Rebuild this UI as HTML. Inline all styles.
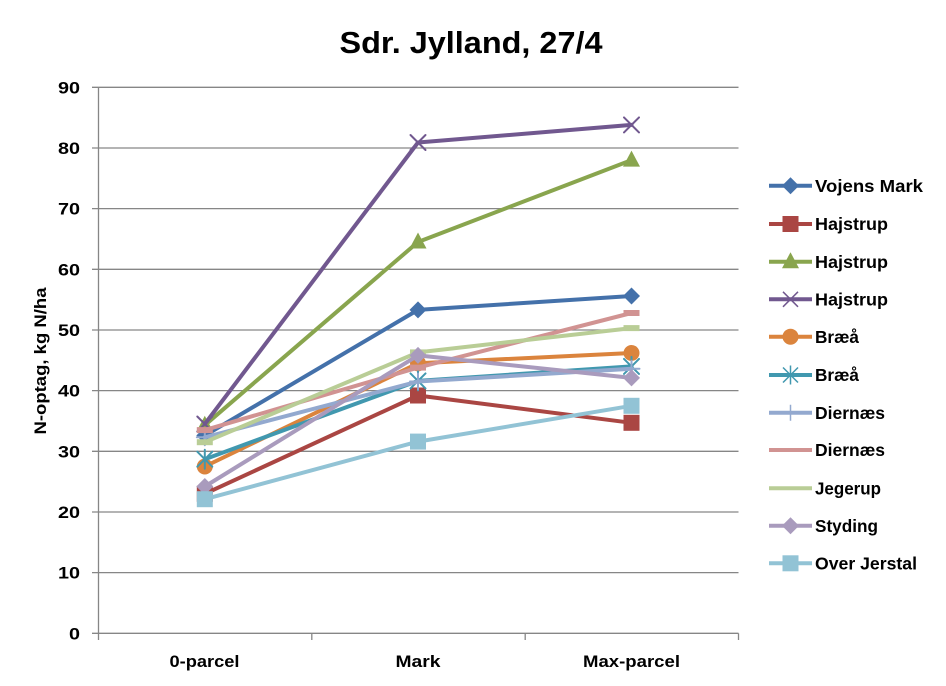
<!DOCTYPE html>
<html>
<head>
<meta charset="utf-8">
<style>
html,body{margin:0;padding:0;background:#fff;}
svg{display:block;}
text{font-family:"Liberation Sans",Arial,sans-serif;font-weight:bold;fill:#000;}
</style>
</head>
<body>
<svg width="946" height="686" viewBox="0 0 946 686" xmlns="http://www.w3.org/2000/svg">
<rect width="946" height="686" fill="#fff"/>
<text x="471" y="53" font-size="31" text-anchor="middle" textLength="263" lengthAdjust="spacingAndGlyphs">Sdr. Jylland, 27/4</text>

<!-- gridlines -->
<g stroke="#868686" stroke-width="1.3" fill="none">
<line x1="92" y1="87.3" x2="738.5" y2="87.3"/>
<line x1="92" y1="148" x2="738.5" y2="148"/>
<line x1="92" y1="208.6" x2="738.5" y2="208.6"/>
<line x1="92" y1="269.3" x2="738.5" y2="269.3"/>
<line x1="92" y1="330" x2="738.5" y2="330"/>
<line x1="92" y1="390.6" x2="738.5" y2="390.6"/>
<line x1="92" y1="451.3" x2="738.5" y2="451.3"/>
<line x1="92" y1="512" x2="738.5" y2="512"/>
<line x1="92" y1="572.6" x2="738.5" y2="572.6"/>
<line x1="92" y1="633.3" x2="738.5" y2="633.3"/>
<line x1="98.5" y1="87.3" x2="98.5" y2="640"/>
<line x1="311.8" y1="633.3" x2="311.8" y2="640"/>
<line x1="525.2" y1="633.3" x2="525.2" y2="640"/>
<line x1="738.5" y1="633.3" x2="738.5" y2="640"/>
</g>

<!-- y tick labels -->
<g font-size="16.5" text-anchor="end">
<text x="80" y="93.3" textLength="22" lengthAdjust="spacingAndGlyphs">90</text>
<text x="80" y="154" textLength="22" lengthAdjust="spacingAndGlyphs">80</text>
<text x="80" y="214.6" textLength="22" lengthAdjust="spacingAndGlyphs">70</text>
<text x="80" y="275.3" textLength="22" lengthAdjust="spacingAndGlyphs">60</text>
<text x="80" y="336" textLength="22" lengthAdjust="spacingAndGlyphs">50</text>
<text x="80" y="396.6" textLength="22" lengthAdjust="spacingAndGlyphs">40</text>
<text x="80" y="457.3" textLength="22" lengthAdjust="spacingAndGlyphs">30</text>
<text x="80" y="518" textLength="22" lengthAdjust="spacingAndGlyphs">20</text>
<text x="80" y="578.6" textLength="22" lengthAdjust="spacingAndGlyphs">10</text>
<text x="80" y="639.3" textLength="11" lengthAdjust="spacingAndGlyphs">0</text>
</g>
<text transform="translate(46,361) rotate(-90)" font-size="16.5" text-anchor="middle" textLength="147" lengthAdjust="spacingAndGlyphs">N-optag, kg N/ha</text>

<!-- x labels -->
<g font-size="17" text-anchor="middle">
<text x="204.5" y="667" textLength="70" lengthAdjust="spacingAndGlyphs">0-parcel</text>
<text x="418" y="667" textLength="45" lengthAdjust="spacingAndGlyphs">Mark</text>
<text x="631.5" y="667" textLength="97" lengthAdjust="spacingAndGlyphs">Max-parcel</text>
</g>

<defs>
<path id="dia" d="M0,-8.5 L8.5,0 L0,8.5 L-8.5,0 Z"/>
<rect id="sq" x="-8" y="-8" width="16" height="16"/>
<path id="tri" d="M0,-9.5 L8.5,6.5 L-8.5,6.5 Z"/>
<circle id="cir" r="8"/>
<path id="xx" d="M-7.5,-7.5 L7.5,7.5 M-7.5,7.5 L7.5,-7.5"/>
<path id="star" d="M-7.5,-7.5 L7.5,7.5 M-7.5,7.5 L7.5,-7.5 M0,-9.5 L0,9.5"/>
<path id="plus" d="M-8,0 L8,0 M0,-8 L0,8"/>
<rect id="dash" x="-8" y="-3" width="16" height="6"/>
</defs>

<g fill="none" stroke-width="4" stroke-linejoin="round" stroke-linecap="round">
<!-- 1 Vojens Mark -->
<polyline stroke="#4471AA" points="204.8,435.5 418,309.9 631.5,296"/>
<g fill="#4471AA"><use href="#dia" x="204.8" y="435.5"/><use href="#dia" x="418" y="309.9"/><use href="#dia" x="631.5" y="296"/></g>
<!-- 2 Hajstrup red -->
<polyline stroke="#AA4643" points="204.8,493.8 418,395.5 631.5,422.8"/>
<g fill="#AA4643"><use href="#sq" x="204.8" y="493.8"/><use href="#sq" x="418" y="395.5"/><use href="#sq" x="631.5" y="422.8"/></g>
<!-- 3 Hajstrup green -->
<polyline stroke="#89A54E" points="204.8,425.2 418,242 631.5,160.1"/>
<g fill="#89A54E"><use href="#tri" x="204.8" y="425.2"/><use href="#tri" x="418" y="242"/><use href="#tri" x="631.5" y="160.1"/></g>
<!-- 4 Hajstrup purple -->
<polyline stroke="#71588F" points="204.8,424 418,142.5 631.5,124.9"/>
<g stroke="#71588F" stroke-width="2"><use href="#xx" x="204.8" y="424"/><use href="#xx" x="418" y="142.5"/><use href="#xx" x="631.5" y="124.9"/></g>
<!-- 5 Bræå orange -->
<polyline stroke="#DB843D" points="204.8,466.5 418,363.3 631.5,353"/>
<g fill="#DB843D"><use href="#cir" x="204.8" y="466.5"/><use href="#cir" x="418" y="363.3"/><use href="#cir" x="631.5" y="353"/></g>
<!-- 6 Bræå teal -->
<polyline stroke="#4198AF" points="204.8,459.2 418,380.9 631.5,366.4"/>
<g stroke="#4198AF" stroke-width="2"><use href="#star" x="204.8" y="459.2"/><use href="#star" x="418" y="380.9"/><use href="#star" x="631.5" y="366.4"/></g>
<!-- 7 Diernæs light blue -->
<polyline stroke="#93A9CF" points="204.8,437.3 418,381.5 631.5,368.8"/>
<g stroke="#93A9CF" stroke-width="2"><use href="#plus" x="204.8" y="437.3"/><use href="#plus" x="418" y="381.5"/><use href="#plus" x="631.5" y="368.8"/></g>
<!-- 8 Diernæs pink -->
<polyline stroke="#D19392" points="204.8,430.1 418,367.6 631.5,313"/>
<g fill="#D19392"><use href="#dash" x="204.8" y="430.1"/><use href="#dash" x="418" y="367.6"/><use href="#dash" x="631.5" y="313"/></g>
<!-- 9 Jegerup -->
<polyline stroke="#B9CD96" points="204.8,442.2 418,352.4 631.5,328.1"/>
<g fill="#B9CD96"><use href="#dash" x="204.8" y="442.2"/><use href="#dash" x="418" y="352.4"/><use href="#dash" x="631.5" y="328.1"/></g>
<!-- 10 Styding -->
<polyline stroke="#A99BBD" points="204.8,486.5 418,355.4 631.5,377.9"/>
<g fill="#A99BBD"><use href="#dia" x="204.8" y="486.5"/><use href="#dia" x="418" y="355.4"/><use href="#dia" x="631.5" y="377.9"/></g>
<!-- 11 Over Jerstal -->
<polyline stroke="#92C3D5" points="204.8,499.2 418,441.6 631.5,405.8"/>
<g fill="#92C3D5"><use href="#sq" x="204.8" y="499.2"/><use href="#sq" x="418" y="441.6"/><use href="#sq" x="631.5" y="405.8"/></g>
</g>

<!-- legend -->
<g stroke-width="4" fill="none">
<line x1="769" y1="185.7" x2="812" y2="185.7" stroke="#4471AA"/>
<line x1="769" y1="224" x2="812" y2="224" stroke="#AA4643"/>
<line x1="769" y1="261.7" x2="812" y2="261.7" stroke="#89A54E"/>
<line x1="769" y1="299.3" x2="812" y2="299.3" stroke="#71588F"/>
<line x1="769" y1="336.7" x2="812" y2="336.7" stroke="#DB843D"/>
<line x1="769" y1="375" x2="812" y2="375" stroke="#4198AF"/>
<line x1="769" y1="412.7" x2="812" y2="412.7" stroke="#93A9CF"/>
<line x1="769" y1="450" x2="812" y2="450" stroke="#D19392"/>
<line x1="769" y1="488.3" x2="812" y2="488.3" stroke="#B9CD96"/>
<line x1="769" y1="525.7" x2="812" y2="525.7" stroke="#A99BBD"/>
<line x1="769" y1="563.3" x2="812" y2="563.3" stroke="#92C3D5"/>
</g>
<use href="#dia" x="790.5" y="185.7" fill="#4471AA"/>
<use href="#sq" x="790.5" y="224" fill="#AA4643"/>
<use href="#tri" x="790.5" y="261.7" fill="#89A54E"/>
<use href="#xx" x="790.5" y="299.3" stroke="#71588F" stroke-width="1.5" fill="none"/>
<use href="#cir" x="790.5" y="336.7" fill="#DB843D"/>
<use href="#star" x="790.5" y="375" stroke="#4198AF" stroke-width="1.5" fill="none"/>
<use href="#plus" x="790.5" y="412.7" stroke="#93A9CF" stroke-width="1.5" fill="none"/>
<use href="#dia" x="790.5" y="525.7" fill="#A99BBD"/>
<use href="#sq" x="790.5" y="563.3" fill="#92C3D5"/>

<g font-size="17.5">
<text x="815" y="191.8" textLength="108" lengthAdjust="spacingAndGlyphs">Vojens Mark</text>
<text x="815" y="230.1" textLength="73" lengthAdjust="spacingAndGlyphs">Hajstrup</text>
<text x="815" y="267.8" textLength="73" lengthAdjust="spacingAndGlyphs">Hajstrup</text>
<text x="815" y="305.4" textLength="73" lengthAdjust="spacingAndGlyphs">Hajstrup</text>
<text x="815" y="342.8" textLength="44" lengthAdjust="spacingAndGlyphs">Bræå</text>
<text x="815" y="381.1" textLength="44" lengthAdjust="spacingAndGlyphs">Bræå</text>
<text x="815" y="418.8" textLength="70" lengthAdjust="spacingAndGlyphs">Diernæs</text>
<text x="815" y="456.1" textLength="70" lengthAdjust="spacingAndGlyphs">Diernæs</text>
<text x="815" y="494.4" textLength="66" lengthAdjust="spacingAndGlyphs">Jegerup</text>
<text x="815" y="531.8" textLength="63" lengthAdjust="spacingAndGlyphs">Styding</text>
<text x="815" y="569.4" textLength="102" lengthAdjust="spacingAndGlyphs">Over Jerstal</text>
</g>
</svg>
</body>
</html>
